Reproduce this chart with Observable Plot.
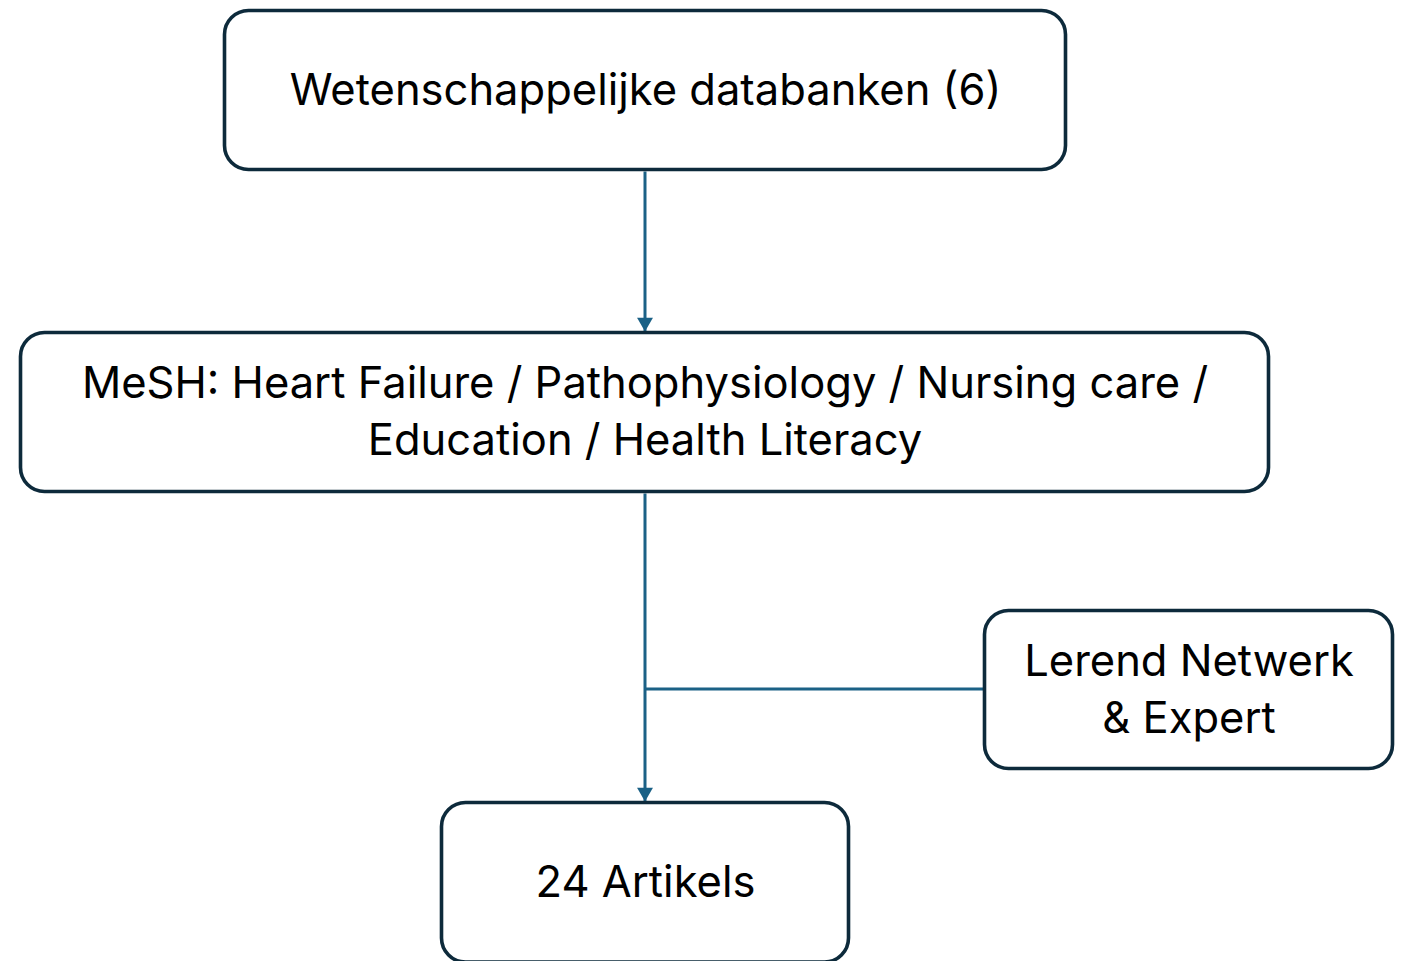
<!DOCTYPE html>
<html>
<head>
<meta charset="utf-8">
<script src="https://cdn.jsdelivr.net/npm/d3@7"></script>
<script src="https://cdn.jsdelivr.net/npm/@observablehq/plot@0.6"></script>
<style>
  html, body { margin: 0; padding: 0; background: #fff; overflow: hidden; }
</style>
</head>
<body>
<div id="chart"></div>
<script>
// ---- data ----
const nodeIds = ["db", "mesh", "expert", "result"];
const nodeLabels = [
  "Wetenschappelijke databanken (6)",
  "MeSH: Heart Failure / Pathophysiology / Nursing care /\nEducation / Health Literacy",
  "Lerend Netwerk\n& Expert",
  "24 Artikels"
];
// layout (diagram coordinates, px)
const nodeX1 = [224.5, 20.5, 984.5, 441.5];
const nodeX2 = [1065.5, 1268.5, 1392.5, 848.5];
const nodeY1 = [10.5, 332.5, 610.5, 802.5];
const nodeY2 = [169.5, 491.5, 768.5, 962];
const labelY = [86, 408, 686, 878];
const edgeFrom = ["db", "mesh"];
const edgeTo = ["mesh", "result"];
const joinFrom = "expert"; // joins the mesh -> result trunk

const W = 1408, H = 961;
const boxStroke = "#0d2a3b";
const lineColor = "#1b6186";

const nodes = nodeIds.map((id, i) => ({
  id, label: nodeLabels[i],
  x1: nodeX1[i], x2: nodeX2[i], y1: nodeY1[i], y2: nodeY2[i],
  cx: (nodeX1[i] + nodeX2[i]) / 2, ly: labelY[i], cy: (nodeY1[i] + nodeY2[i]) / 2
}));
const byId = Object.fromEntries(nodes.map(n => [n.id, n]));

const trunkX = byId.db.cx - 0.5;
const edges = edgeFrom.map((f, i) => ({
  x1: trunkX, y1: byId[f].y2 + 1.5,
  x2: trunkX, y2: byId[edgeTo[i]].y1 - 2
}));
const heads = edgeTo.map(t => ({x: trunkX, y: byId[t].y1 - 1.5 - 9.2}));
const j = byId[joinFrom];
const joins = [{x1: j.x1 - 1.5, y1: j.cy - 1, x2: trunkX, y2: j.cy - 1}];

const chart = Plot.plot({
  width: W, height: H,
  margin: 0,
  x: {domain: [0, W], range: [0, W], axis: null},
  y: {domain: [0, H], range: [0, H], axis: null},
  style: {background: "#fff", fontFamily: "Inter, 'Noto Sans', sans-serif"},
  marks: [
    Plot.link(edges, {x1: "x1", y1: "y1", x2: "x2", y2: "y2", stroke: lineColor, strokeWidth: 3}),
    Plot.link(joins, {x1: "x1", y1: "y1", x2: "x2", y2: "y2", stroke: lineColor, strokeWidth: 3}),
    Plot.dot(heads, {x: "x", y: "y", symbol: "triangle", rotate: 180, r: 5.9, fill: lineColor, stroke: "none"}),
    Plot.rect(nodes, {x1: "x1", x2: "x2", y1: "y1", y2: "y2", fill: "#fff", stroke: boxStroke, strokeWidth: 3.6, rx: 24, ry: 24}),
    Plot.text(nodes, {x: "cx", y: "ly",
      text: "label", fontSize: 43.5, fill: "#000", lineHeight: 1.31, lineAnchor: "middle", textAnchor: "middle"})
  ]
});
document.getElementById("chart").appendChild(chart);
</script>
</body>
</html>
